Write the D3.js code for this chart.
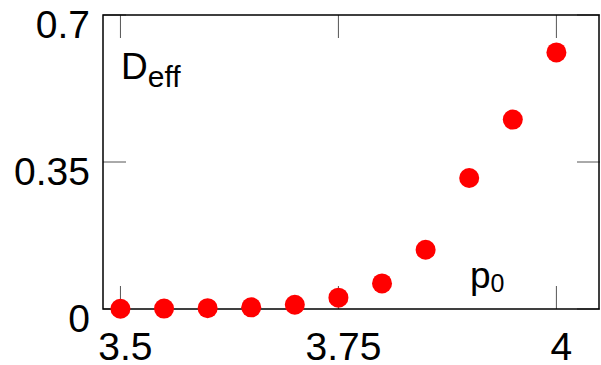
<!DOCTYPE html>
<html>
<head>
<meta charset="utf-8">
<script src="https://cdn.jsdelivr.net/npm/d3@7"></script>
<style>
  body { margin: 0; background: #fff; }
  text { font-family: "Liberation Sans", Arial, sans-serif; fill: #000; }
</style>
</head>
<body>
<div id="chart"></div>
<script>
// data
var p0 = [3.5, 3.55, 3.6, 3.65, 3.7, 3.75, 3.8, 3.85, 3.9, 3.95, 4.0];
var deff = [0.0005, 0.001, 0.002, 0.004, 0.01, 0.027, 0.061, 0.141, 0.312, 0.451, 0.611];
var xTicks = [3.5, 3.75, 4];
var xTickLabels = ["3.5", "3.75", "4"];
var yTicks = [0, 0.35, 0.7];
var yTickLabels = ["0", "0.35", "0.7"];

var W = 601, H = 365;
var box = { left: 103, right: 600, top: 15, bottom: 309 };
var tickLen = 23;

var x = d3.scaleLinear().domain([3.48, 4.05]).range([box.left, box.right]);
var y = d3.scaleLinear().domain([0, 0.7]).range([box.bottom, box.top]);

var svg = d3.select("#chart").append("svg")
  .attr("width", W)
  .attr("height", H);

// tick marks on all four sides, pointing inward
var ticks = svg.append("g").attr("stroke", "#555").attr("stroke-width", 1);
xTicks.forEach(function(t) {
  ticks.append("line")
    .attr("x1", x(t)).attr("x2", x(t))
    .attr("y1", box.bottom).attr("y2", box.bottom - tickLen);
  ticks.append("line")
    .attr("x1", x(t)).attr("x2", x(t))
    .attr("y1", box.top).attr("y2", box.top + tickLen);
});
yTicks.forEach(function(t) {
  ticks.append("line")
    .attr("x1", box.left).attr("x2", box.left + tickLen)
    .attr("y1", y(t)).attr("y2", y(t));
  ticks.append("line")
    .attr("x1", box.right).attr("x2", box.right - tickLen)
    .attr("y1", y(t)).attr("y2", y(t));
});

// frame
svg.append("rect")
  .attr("x", box.left)
  .attr("y", box.top)
  .attr("width", box.right - box.left - 1)
  .attr("height", box.bottom - box.top)
  .attr("fill", "none")
  .attr("stroke", "#000")
  .attr("stroke-width", 1.5);

// tick labels
svg.selectAll(".xlab")
  .data(xTicks)
  .enter()
  .append("text")
  .attr("class", "xlab")
  .attr("x", function(d) { return x(d) + 5; })
  .attr("y", 360)
  .attr("text-anchor", "middle")
  .style("font-size", "39px")
  .text(function(d, i) { return xTickLabels[i]; });

svg.selectAll(".ylab")
  .data(yTicks)
  .enter()
  .append("text")
  .attr("class", "ylab")
  .attr("x", 90)
  .attr("y", function(d) { return y(d) + 23; })
  .attr("text-anchor", "end")
  .style("font-size", "39px")
  .text(function(d, i) { return yTickLabels[i]; });

// axis labels inside the box
var dl = svg.append("text").attr("x", 121).attr("y", 79).style("font-size", "37px");
dl.append("tspan").text("D");
dl.append("tspan").attr("dy", 8).style("font-size", "30px").text("eff");

var pl = svg.append("text").attr("x", 470).attr("y", 288).style("font-size", "37px");
pl.append("tspan").text("p");
pl.append("tspan").attr("dy", 4).style("font-size", "25px").text("0");

// points
svg.selectAll(".dot")
  .data(p0)
  .enter()
  .append("circle")
  .attr("class", "dot")
  .attr("cx", function(d) { return x(d); })
  .attr("cy", function(d, i) { return y(deff[i]); })
  .attr("r", 10)
  .attr("fill", "#ff0000");
</script>
</body>
</html>
